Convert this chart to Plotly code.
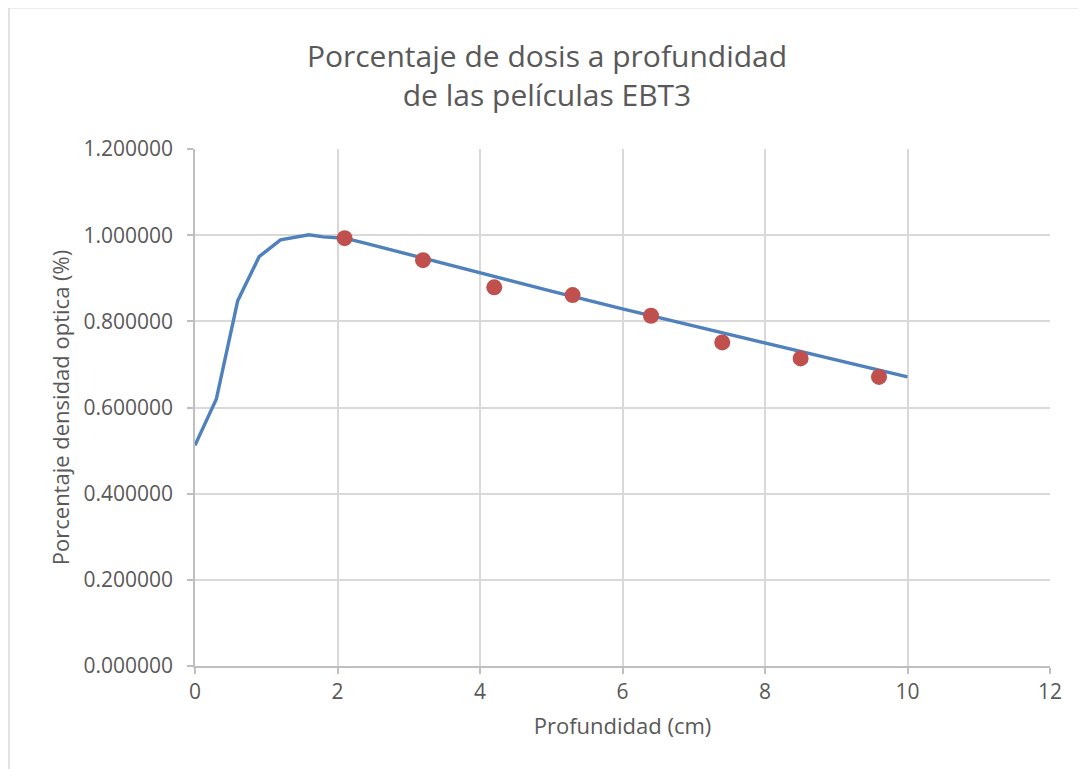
import plotly.graph_objects as go

# Line (calculated PDD curve)
line_x = [0, 0.3, 0.6, 0.9, 1.2, 1.6, 1.8, 2.1, 2.4, 2.7, 3, 4, 5, 6, 7, 8, 9, 10]
line_y = [0.512, 0.620, 0.848, 0.950, 0.989, 1.001, 0.996, 0.993, 0.981, 0.968,
          0.955, 0.912, 0.870, 0.829, 0.790, 0.750, 0.711, 0.671]

# Film measurements
pts_x = [2.1, 3.2, 4.2, 5.3, 6.4, 7.4, 8.5, 9.6]
pts_y = [0.993, 0.942, 0.879, 0.861, 0.813, 0.751, 0.714, 0.671]

title_text = "Porcentaje de dosis a profundidad<br>de las películas EBT3"
x_title = "Profundidad (cm)"
y_title = "Porcentaje densidad optica (%)"

FONT = "Open Sans, Lato, sans-serif"
TXT = "#595959"
PW, PH = 855, 509
FIG_H = 761

fig = go.Figure()
fig.add_trace(go.Scatter(x=line_x, y=line_y, mode="lines",
                         line=dict(color="#4F81BD", width=3.4),
                         showlegend=False, hoverinfo="x+y"))
fig.add_trace(go.Scatter(x=pts_x, y=pts_y, mode="markers",
                         marker=dict(color="#C0504D", size=16,
                                     line=dict(width=0)),
                         showlegend=False, hoverinfo="x+y"))

fig.update_layout(
    width=1078, height=FIG_H,
    paper_bgcolor="white", plot_bgcolor="white",
    margin=dict(l=187, r=36, t=141, b=103),
    title=dict(text=title_text, x=0.5, xanchor="center",
               y=1 - 59 / FIG_H, yanchor="middle",
               font=dict(family=FONT, size=30, color=TXT)),
    font=dict(family=FONT, color=TXT),
    shapes=[dict(type="rect", xref="paper", yref="paper",
                 x0=-186/PW, x1=1 + 60/PW, y0=-140/PH, y1=1 + 139/PH,
                 line=dict(color="#D9D9D9", width=1.5), fillcolor="rgba(0,0,0,0)",
                 layer="below")],
)
fig.update_xaxes(range=[0, 12], dtick=2, tick0=0,
                 showgrid=True, gridcolor="#D9D9D9", gridwidth=1.5,
                 zeroline=False, showline=True, linecolor="#BFBFBF", linewidth=1.5,
                 ticks="outside", ticklen=6, tickcolor="#BFBFBF", tickwidth=1.5,
                 tickfont=dict(size=21, color=TXT, family=FONT),
                 title=dict(text=x_title, font=dict(size=22, color=TXT, family=FONT),
                            standoff=15))
fig.update_yaxes(range=[0, 1.2], dtick=0.2, tick0=0, tickformat=".6f",
                 showgrid=True, gridcolor="#D9D9D9", gridwidth=1.5,
                 zeroline=False, showline=True, linecolor="#BFBFBF", linewidth=1.5,
                 ticks="outside", ticklen=6, tickcolor="#BFBFBF", tickwidth=1.5,
                 ticklabelstandoff=10,
                 tickfont=dict(size=21, color=TXT, family=FONT),
                 title=dict(text=y_title, font=dict(size=22, color=TXT, family=FONT),
                            standoff=8))

fig.write_html("out.html")
